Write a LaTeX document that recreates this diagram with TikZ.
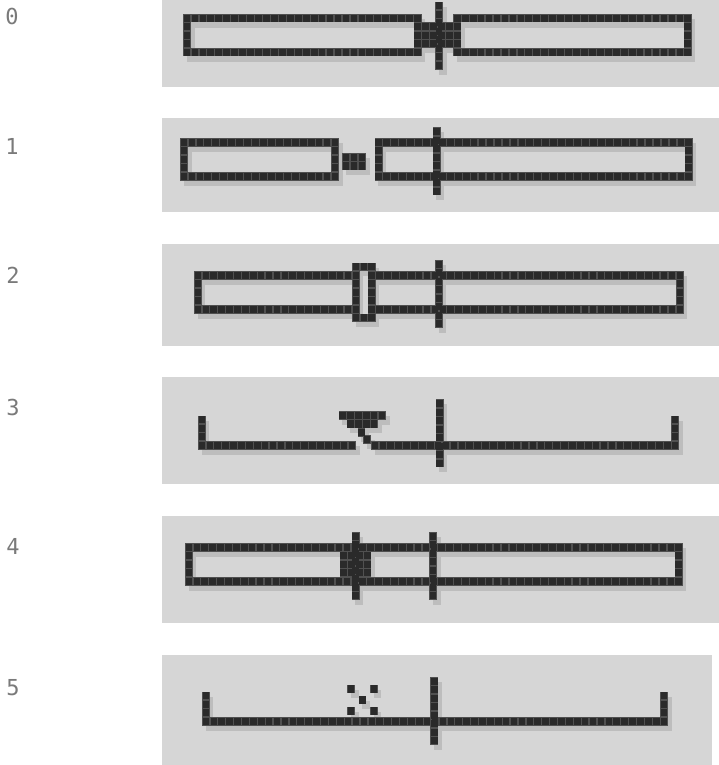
\documentclass[tikz,border=0pt]{standalone}
\usepackage{fontspec}
\newfontfamily\lblfont{DejaVu Sans Mono}
\definecolor{panelbg}{HTML}{D6D6D6}
\definecolor{dotc}{HTML}{2A2A2A}
\definecolor{ulc}{HTML}{505050}
\definecolor{shc}{HTML}{BDBDBD}
\definecolor{lblc}{HTML}{7A7A7A}
\def\pxmode{0}
% #1 start col, #2 start row, #3 number of cols, #4 number of rows
\newcommand\blk[4]{%
  \ifcase\pxmode\relax
    \fill[shc] (#1+0.45,#2+0.6) rectangle (#1+#3+0.45,#2+#4+0.6);
  \or
    \fill[ulc] (#1,#2) rectangle (#1+#3,#2+#4);
  \or
    \foreach \pxi in {1,...,#3}{\foreach \pxj in {1,...,#4}{%
      \fill[dotc] (#1+\pxi-1+0.08,#2+\pxj-1+0.08) rectangle (#1+\pxi-0.08,#2+\pxj-0.08);}}%
  \fi}
% #1 ox, #2 oy, #3 pitch x, #4 shapes
\newcommand\lcdpanel[4]{%
  \begin{scope}[shift={(#1pt,-#2pt)},x=#3pt,y=-8.5pt]
    \def\pxmode{0}#4
    \def\pxmode{1}#4
    \def\pxmode{2}#4
  \end{scope}}
\newcommand\shapesA{%
  \blk{0}{0}{30}{1}\blk{0}{4}{30}{1}\blk{0}{1}{1}{3}\blk{29}{1}{1}{3}%
  \blk{30}{1}{4}{3}%
  \blk{34}{0}{30}{1}\blk{34}{4}{30}{1}\blk{34}{1}{1}{3}\blk{63}{1}{1}{3}%
  \blk{31.7}{-1.45}{1}{8}}
\newcommand\shapesB{%
  \blk{0}{0}{20}{1}\blk{0}{4}{20}{1}\blk{0}{1}{1}{3}\blk{19}{1}{1}{3}%
  \blk{20.4}{1.8}{3}{2}%
  \blk{24.5}{0}{40}{1}\blk{24.5}{4}{40}{1}\blk{24.5}{1}{1}{3}\blk{63.5}{1}{1}{3}%
  \blk{31.8}{-1.25}{1}{8}}
\newcommand\shapesC{%
  \blk{0}{0}{20}{1}\blk{23}{0}{39}{1}%
  \blk{0}{4}{20}{1}\blk{23}{4}{39}{1}%
  \blk{0}{1}{1}{3}\blk{61}{1}{1}{3}%
  \blk{20}{-1}{3}{1}\blk{20}{5}{3}{1}\blk{20}{0}{1}{5}\blk{22}{0}{1}{5}%
  \blk{30.5}{-1.3}{1}{8}}
\newcommand\shapesD{%
  \blk{0}{-3}{1}{3}\blk{0}{0}{20}{1}%
  \blk{21.9}{0}{39}{1}\blk{59.9}{-3}{1}{3}%
  \blk{17.8}{-3.5}{6}{1}\blk{18.8}{-2.5}{4}{1}%
  \blk{20.2}{-1.5}{1}{1}\blk{20.9}{-0.7}{1}{1}%
  \blk{30.1}{-4.9}{1}{8}}
\newcommand\shapesE{%
  \blk{0}{0}{63}{1}\blk{0}{4}{63}{1}\blk{0}{1}{1}{3}\blk{62}{1}{1}{3}%
  \blk{19.6}{1}{4}{3}%
  \blk{21.1}{-1.3}{1}{8}\blk{30.9}{-1.3}{1}{8}}
\newcommand\shapesF{%
  \blk{0}{-3}{1}{3}\blk{0}{0}{59}{1}\blk{58}{-3}{1}{3}%
  \blk{18.36}{-3.79}{1}{1}\blk{21.27}{-3.79}{1}{1}%
  \blk{19.82}{-2.5}{1}{1}%
  \blk{18.36}{-1.21}{1}{1}\blk{21.27}{-1.21}{1}{1}%
  \blk{28.9}{-4.7}{1}{8}}
\begin{document}
\begin{tikzpicture}[x=1pt,y=-1pt,
  lbl/.style={font=\lblfont\fontsize{22}{22}\selectfont, text=lblc, inner sep=0pt, anchor=center},
  panelbox/.style={fill=panelbg, draw=none}]
  \useasboundingbox (0,0) rectangle (719,765);
  \fill[white] (0,0) rectangle (719,765);
  % panel backgrounds
  \fill[panelbox] (162,0) rectangle (719,87);
  \fill[panelbox] (162,118) rectangle (719,212);
  \fill[panelbox] (162,244) rectangle (719,346);
  \fill[panelbox] (162,377) rectangle (719,484);
  \fill[panelbox] (162,516) rectangle (719,623);
  \fill[panelbox] (162,655) rectangle (712,765);
  % labels
  \node[lbl] (l0) at (12,16) {0};
  \node[lbl] (l1) at (12,146) {1};
  \node[lbl] (l2) at (13,275) {2};
  \node[lbl] (l3) at (13,407) {3};
  \node[lbl] (l4) at (13,546) {4};
  \node[lbl] (l5) at (13,688) {5};
  % LCD drawings
  \lcdpanel{183}{14}{7.95}{\shapesA}
  \lcdpanel{180}{138}{7.95}{\shapesB}
  \lcdpanel{194}{271}{7.9}{\shapesC}
  \lcdpanel{198}{441}{7.9}{\shapesD}
  \lcdpanel{185}{543}{7.9}{\shapesE}
  \lcdpanel{202}{717}{7.9}{\shapesF}
\end{tikzpicture}
\end{document}
